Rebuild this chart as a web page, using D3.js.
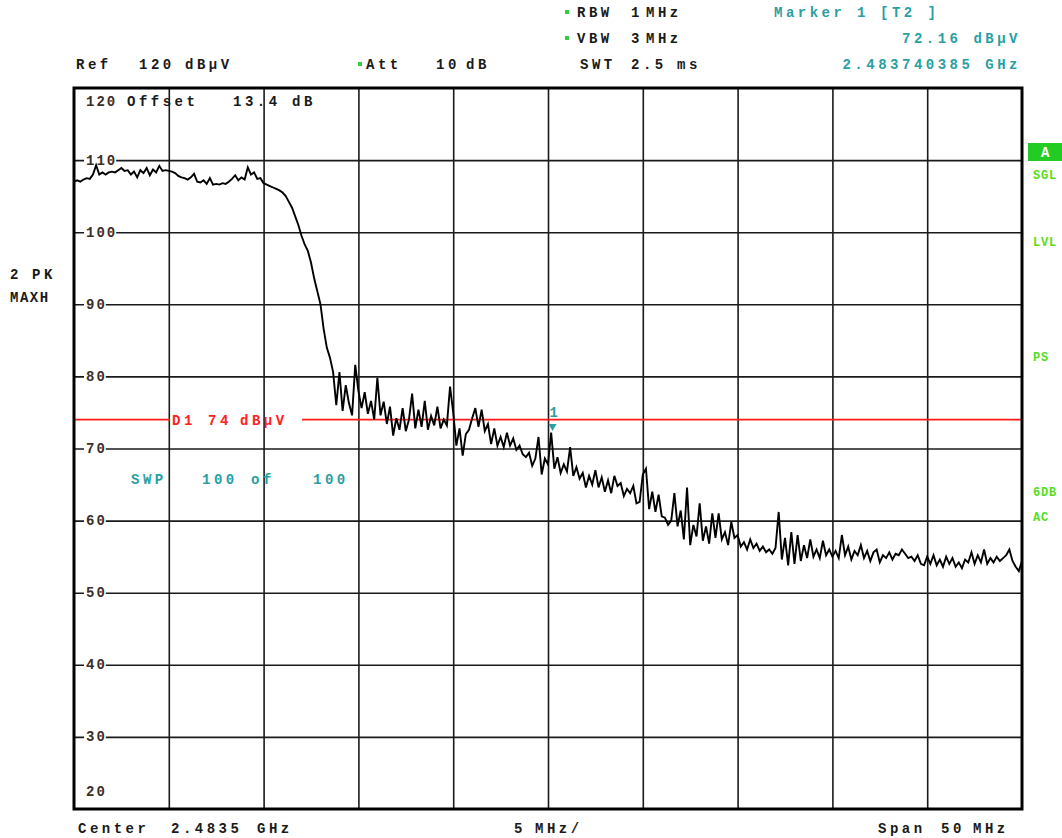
<!DOCTYPE html>
<html>
<head>
<meta charset="utf-8">
<script src="https://cdn.jsdelivr.net/npm/d3@7"></script>
<style>
  body { margin: 0; background: #fff; }
  svg text {
    font-family: "Liberation Mono", "DejaVu Sans Mono", monospace;
    font-weight: bold;
    font-size: 14px;
    letter-spacing: 3.5px;
  }
</style>
</head>
<body>
<div id="chart"></div>
<script>
const centerGHz = 2.4835;
const spanGHz = 0.05;
const levelTicks = [120, 110, 100, 90, 80, 70, 60, 50, 40, 30, 20];
const freqDivisions = d3.range(0, 11);
const limitLevel = 74;
const markerFreq = 2.483740385;
const markerLevel = 72.16;

// Traço MAXH, 301 pontos do início ao fim do span
const traceLevels = [
  107.0, 107.2, 107.0, 107.3, 107.5, 107.4, 108.0, 109.3, 108.0, 108.3,
  108.0, 108.3, 108.4, 108.3, 108.6, 108.9, 108.5, 108.6, 108.0, 108.4,
  107.6, 108.6, 108.2, 108.9, 107.9, 108.7, 108.3, 109.2, 108.5, 108.6,
  108.5, 108.4, 108.2, 107.8, 107.6, 107.5, 107.3, 107.6, 108.1, 107.0,
  106.9, 107.2, 106.7, 107.5, 106.6, 106.7, 106.6, 106.8, 106.7, 107.0,
  107.4, 107.9, 107.2, 107.6, 107.3, 109.0, 108.0, 108.3, 107.4, 107.5,
  106.8, 106.6, 106.4, 106.2, 106.0, 105.8, 105.5, 105.0, 104.2, 103.4,
  102.2, 101.0, 99.5, 98.3, 97.4, 95.8, 93.6, 91.8, 90.0, 86.6,
  84.0, 82.6, 80.6, 76.0, 80.6, 75.2, 78.8, 76.3, 74.6, 81.6,
  78.0, 75.6, 77.8, 74.8, 76.6, 74.0, 79.8, 74.6, 76.5, 73.4,
  75.8, 71.8, 74.2, 72.6, 75.6, 72.4, 74.0, 77.6, 72.8, 75.4,
  73.0, 76.6, 72.6, 74.5, 73.2, 75.8, 72.8, 74.0, 73.2, 78.6,
  75.0, 70.4, 72.8, 69.0, 72.0, 72.6, 74.2, 75.6, 73.0, 75.4,
  72.4, 73.4, 70.6, 72.8, 70.4, 71.6, 70.2, 72.2, 70.4, 71.4,
  69.8, 70.4, 69.2, 68.8, 69.4, 67.6, 68.6, 71.6, 66.4, 68.6,
  67.8, 72.2, 67.2, 68.8, 66.6, 67.8, 66.8, 70.2, 66.2, 67.4,
  65.8, 66.6, 64.6, 66.2, 65.0, 67.0, 64.6, 66.0, 64.0, 65.6,
  63.8, 66.2, 64.8, 65.2, 63.4, 64.4, 63.8, 64.8, 62.4, 62.6,
  66.4, 67.2, 61.6, 64.0, 61.2, 63.6, 60.6, 60.4, 59.4, 60.0,
  63.8, 59.2, 61.4, 57.4, 64.6, 56.6, 59.4, 57.8, 62.4, 57.2,
  59.2, 56.8, 61.0, 57.6, 61.0, 57.4, 58.4, 56.6, 59.8, 57.6,
  58.0, 56.4, 57.0, 56.0, 57.4, 56.2, 56.8, 55.8, 56.4, 55.6,
  56.0, 55.4, 56.2, 61.2, 54.6, 57.6, 53.8, 58.4, 54.0, 58.0,
  54.4, 56.6, 54.8, 57.4, 55.0, 56.0, 54.8, 57.2, 55.2, 56.0,
  55.0, 55.8, 54.8, 58.0, 55.2, 56.4, 54.6, 55.8, 55.2, 56.6,
  54.8, 55.8, 54.4, 55.6, 56.0, 54.2, 55.2, 54.8, 55.6, 54.6,
  55.4, 55.2, 56.0, 55.4, 54.8, 55.0, 54.4, 55.2, 54.0, 53.8,
  55.0, 54.0, 55.2, 53.8, 54.6, 53.6, 55.0, 54.0, 54.8, 53.6,
  54.2, 53.4, 54.6, 54.2, 55.6, 54.0, 55.2, 54.2, 56.0, 54.0,
  54.8, 54.2, 55.0, 54.4, 54.8, 55.2, 56.0, 54.4, 53.6, 53.0,
  54.4
];

const width = 1062;
const height = 838;
const plot = { left: 74, right: 1022, top: 88, bottom: 809 };

const startGHz = centerGHz - spanGHz / 2;
const stopGHz = centerGHz + spanGHz / 2;
const stepGHz = spanGHz / (traceLevels.length - 1);

const teal = '#2a9fa3';
const green = '#55dd22';
const ink = '#1a1a1a';

const svg = d3.select('#chart')
  .append('svg')
  .attr('width', width)
  .attr('height', height);

// Escalas
const x = d3.scaleLinear()
  .domain([startGHz, stopGHz])
  .range([plot.left, plot.right]);

const y = d3.scaleLinear()
  .domain([20, 120])
  .range([plot.bottom, plot.top]);

// Grade vertical (10 divisões)
const divGHz = spanGHz / 10;
svg.append('g')
  .attr('transform', `translate(0,${plot.bottom})`)
  .call(d3.axisBottom(x)
    .tickValues(freqDivisions.slice(1, 10).map(i => startGHz + i * divGHz))
    .tickSize(-(plot.bottom - plot.top))
    .tickFormat(''))
  .call(g => g.select('.domain').remove())
  .call(g => g.selectAll('line').attr('stroke', ink).attr('stroke-width', 1.6));

// Grade horizontal
svg.append('g')
  .attr('transform', `translate(${plot.left},0)`)
  .call(d3.axisRight(y)
    .tickValues(levelTicks.filter(v => v > 20 && v < 120))
    .tickSize(plot.right - plot.left)
    .tickFormat(''))
  .call(g => g.select('.domain').remove())
  .call(g => g.selectAll('line').attr('stroke', ink).attr('stroke-width', 1.6));

// Rótulos de nível com fundo branco
const yLab = svg.append('g');
levelTicks.forEach(v => {
  let cy = y(v);
  if (v === 120) cy += 13;
  if (v === 20) cy -= 18;
  const t = yLab.append('text')
    .attr('x', 86)
    .attr('y', cy + 4.5)
    .attr('fill', '#3a2e2a')
    .style('letter-spacing', '2px')
    .text(v);
  if (v !== 120 && v !== 20) {
    const bb = t.node().getBBox();
    yLab.insert('rect', 'text')
      .attr('x', bb.x - 2)
      .attr('y', cy - 3)
      .attr('width', bb.width + 1)
      .attr('height', 6)
      .attr('fill', '#fff');
  }
});

// Textos auxiliares
function label(px, py, str, color, extra) {
  const t = svg.append('text')
    .attr('x', px)
    .attr('y', py)
    .attr('fill', color || ink)
    .text(str);
  if (extra) extra(t);
  return t;
}

function bullet(px, py) {
  svg.append('rect')
    .attr('x', px - 2).attr('y', py - 2)
    .attr('width', 4).attr('height', 4)
    .attr('fill', '#33cc44');
}

// Cabeçalho
bullet(567, 12);
label(577, 17, 'RBW');
label(631, 17, '1');
label(646, 17, 'MHz');
bullet(567, 38);
label(577, 43, 'VBW');
label(631, 43, '3');
label(646, 43, 'MHz');
label(580, 69, 'SWT');
label(631, 69, '2.5');
label(677, 69, 'ms');

label(774, 17, 'Marker', teal);
label(857, 17, '1', teal);
label(880, 17, '[T2 ]', teal);
label(1021, 43, '72.16 dB\u00b5V', teal, t => t.attr('text-anchor', 'end'));
label(1021, 69, '2.483740385 GHz', teal, t => t.attr('text-anchor', 'end'));

label(76, 69, 'Ref');
label(139, 69, '120');
label(185, 69, 'dB\u00b5V');
bullet(360, 64);
label(366, 69, 'Att');
label(436, 69, '10');
label(466, 69, 'dB');

// Rodapé
label(78, 833, 'Center');
label(171, 833, '2.4835');
label(257, 833, 'GHz');
label(514, 833, '5');
label(535, 833, 'MHz/');
label(878, 833, 'Span');
label(941, 833, '50');
label(973, 833, 'MHz');

// Lado esquerdo
label(10, 279, '2');
label(32, 279, 'PK');
label(10, 302, 'MAXH', null, t => t.style('letter-spacing', '1.5px'));

// Lado direito
svg.append('rect')
  .attr('x', 1028).attr('y', 143)
  .attr('width', 34).attr('height', 18)
  .attr('fill', '#22cc22');
label(1041, 157, 'A', '#ffffff');
[['SGL', 179], ['LVL', 246], ['PS', 361], ['6DB', 496], ['AC', 521]].forEach(d => {
  label(1033, d[1], d[0], green, t => t
    .style('font-size', '12px')
    .style('letter-spacing', '0.8px'));
});

// Dentro do gráfico
label(127, 106, 'Offset');
label(233, 106, '13.4');
label(292, 106, 'dB');

label(131, 484, 'SWP', teal);
label(202, 484, '100', teal);
label(251, 484, 'of', teal);
label(313, 484, '100', teal);

// Linha limite D1
const yLimit = y(limitLevel);
svg.append('line')
  .attr('x1', plot.left).attr('x2', 170)
  .attr('y1', yLimit).attr('y2', yLimit)
  .attr('stroke', '#ff1a1a').attr('stroke-width', 1.6);
svg.append('line')
  .attr('x1', 302).attr('x2', plot.right)
  .attr('y1', yLimit).attr('y2', yLimit)
  .attr('stroke', '#ff1a1a').attr('stroke-width', 1.6);
label(172, yLimit + 5, 'D1', '#ff2020');
label(208, yLimit + 5, limitLevel, '#ff2020');
label(240, yLimit + 5, 'dB\u00b5V', '#ff2020');

// Traço
svg.append('clipPath').attr('id', 'clip')
  .append('rect')
  .attr('x', plot.left).attr('y', plot.top)
  .attr('width', plot.right - plot.left)
  .attr('height', plot.bottom - plot.top);

const line = d3.line()
  .x((d, i) => x(startGHz + i * stepGHz))
  .y(d => y(d));

svg.append('path')
  .datum(traceLevels)
  .attr('clip-path', 'url(#clip)')
  .attr('fill', 'none')
  .attr('stroke', '#000')
  .attr('stroke-width', 1.9)
  .attr('stroke-linejoin', 'miter')
  .attr('d', line);

// Marcador 1
const mx = x(markerFreq);
const my = y(markerLevel);
svg.append('path')
  .attr('d', `M${mx - 4},${my - 9}L${mx + 4},${my - 9}L${mx},${my - 2}Z`)
  .attr('fill', teal);
label(mx - 3, my - 16, '1', teal, t => t.style('letter-spacing', '0px'));

// Moldura
svg.append('rect')
  .attr('x', plot.left).attr('y', plot.top)
  .attr('width', plot.right - plot.left)
  .attr('height', plot.bottom - plot.top)
  .attr('fill', 'none')
  .attr('stroke', '#000')
  .attr('stroke-width', 3);
</script>
</body>
</html>
